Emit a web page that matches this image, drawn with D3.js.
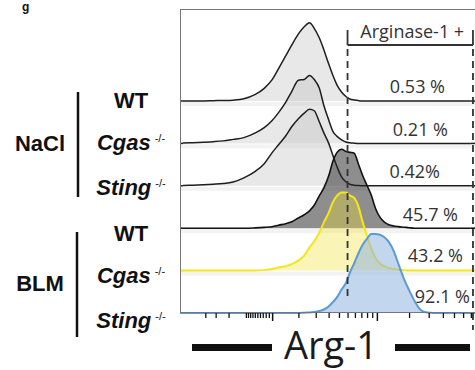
<!DOCTYPE html>
<html><head><meta charset="utf-8">
<script src="https://cdn.jsdelivr.net/npm/d3@7"></script>
<style>body{margin:0;background:#fff} svg{display:block}</style>
</head><body><svg id="c" width="475" height="370"></svg>
<script>
// ---- data ----
const xBins = [-700,-550,-420,-320,-240,-170,-110,-60,-25,0,20,45,70,100,130,160,190,225,260,300,340,380,430,480,530,590,650,720,800,880,970,1070,1180,1300,1450,1600,1800,2000,2250,2550,2900,3300,3800,4500,5500,7000];
const naclWT = [0,0,0.1,0.4,0.6,1.1,2.8,8,16,27, 41,57,71,85,94,99,92,80,65,47, 32,20,11,5.7,2.5,1.3,0.5,0,0,0, 0,0,0,0,0,0,0,0,0,0, 0,0,0,0,0,0];
const naclCgas = [0.4,0.9,1.5,2.2,3.2,5.1,7.3,13,20,29, 39,52,66,80,81,86,81,70,48,30, 15,8.9,4.4,1.8,0.8,0.3,0,0,0,0, 0,0,0,0,0,0,0,0,0,0, 0,0,0,0,0,0];
const naclSting = [0.3,0.8,1.4,2,2.8,4.8,10,18,28,42, 52,63,75,85,92,97,95,81,67,54, 38,24,11,5.1,1.9,0.8,0.3,0,0,0, 0,0,0,0,0,0,0,0,0,0, 0,0,0,0,0,0];
const blmWT = [0,0,0,0,0,0,0,0.4,1,1.9, 3.8,5.7,8.2,13,17,22,29,41,51,66, 85,96,100,97,96,95,82,67,54,42, 25,14,7.6,4.4,2.8,2,1.3,0.6,0,0, 0,0,0,0,0,0];
const blmCgas = [0,0,0,0,0,0,0,0,0.6,1.9, 3.8,5.7,8.2,13,19,29,37,48,61,73, 87,95,99,99,95,92,82,62,44,28, 16,8.9,5.3,3.2,1.9,1,0.5,0,0,0, 0,0,0,0,0,0];
const blmSting = [0,0,0,0,0,0,0,0,0,0, 0,0,0,0,0.4,0.6,1.3,2.5,4.4,8.2, 14,20,30,38,51,63,75,86,94,100, 100,99,96,90,78,62,43,29,15,3.8, 0.6,0,0,0,0,0];
const rowNames = ["WT","Cgas","Sting","WT","Cgas","Sting"];
const rowSup = ["","-/-","-/-","","-/-","-/-"];
const groupNames = ["NaCl","BLM"];
const gatePercents = ["0.53 %","0.21 %","0.42%","45.7 %","43.2 %","92.1 %"];
const gateLabel = "Arginase-1 +";
const gateRange = [500, 7300];
const axisLabel = "Arg-1";
const majorTicks = [0, 1000];
const minorTicks = [-400,-300,-200,-100,-90,-80,-70,-60,-50,-40,-30,-20,-10,100,200,300,400,500,600,700,800,900,2000,3000,4000,5000,6000,7000];
const panelLetter = "g";

// ---- layout / style ----
const series = [naclWT, naclCgas, naclSting, blmWT, blmCgas, blmSting];
const styles = [
  {fill:"#bdbdbd", fo:0.35, stroke:"#1e1e1e", sw:1.5},
  {fill:"#bdbdbd", fo:0.35, stroke:"#1e1e1e", sw:1.5},
  {fill:"#bdbdbd", fo:0.35, stroke:"#1e1e1e", sw:1.5},
  {fill:"#262626", fo:0.52, stroke:"#111",    sw:1.6},
  {fill:"#f0e030", fo:0.35, stroke:"#f7e51c", sw:2},
  {fill:"#8fb4df", fo:0.55, stroke:"#5b9bd5", sw:2}
];
const pctRight = [445,448,440,458,463,470];
const pctUp = [8,7,8,7,9,10];
const labelDown = [7,7,9,13,12,15];

const svg = d3.select("#c");
const x = d3.scaleSymlog().constant(150).domain([-750, 7600]).range([180, 475]);
const yRow = d3.scalePoint().domain(d3.range(6)).range([101, 313]);
const h = d3.scaleLinear().domain([0, 100]).range([0, 79]);

svg.append("defs").append("clipPath").attr("id","clip")
  .append("rect").attr("x",180).attr("y",9).attr("width",300).attr("height",307);

const plot = svg.append("g").attr("clip-path","url(#clip)");
d3.range(5).forEach(i => {
  plot.append("rect").attr("x",180).attr("y",yRow(i)+1).attr("width",300).attr("height",4).attr("fill","#f3f3f3");
});

series.forEach((vals, i) => {
  const base = yRow(i), st = styles[i];
  const area = d3.area().x((d,j)=>x(xBins[j])).y0(base).y1(d=>base - h(d)).curve(d3.curveMonotoneX);
  const line = d3.line().x((d,j)=>x(xBins[j])).y(d=>base - h(d)).curve(d3.curveMonotoneX);
  plot.append("path").datum(vals).attr("d", area).attr("fill", st.fill).attr("fill-opacity", st.fo);
  plot.append("line").attr("x1", x.range()[0]).attr("x2", x(xBins[0])).attr("y1", base).attr("y2", base)
    .attr("stroke", st.stroke).attr("stroke-width", st.sw);
  plot.append("line").attr("x1", x(xBins[xBins.length-1])).attr("x2", x.range()[1]+5).attr("y1", base).attr("y2", base)
    .attr("stroke", st.stroke).attr("stroke-width", st.sw);
  plot.append("path").datum(vals).attr("d", line).attr("fill","none")
    .attr("stroke", st.stroke).attr("stroke-width", st.sw).attr("stroke-linejoin","round");
});

// frame
const frame = svg.append("g").attr("stroke","#777").attr("stroke-width",1).attr("fill","none");
frame.append("line").attr("x1",180.5).attr("x2",180.5).attr("y1",9).attr("y2",313);
frame.append("line").attr("x1",180).attr("x2",475).attr("y1",9.5).attr("y2",9.5);
frame.append("line").attr("x1",180).attr("x2",475).attr("y1",312.5).attr("y2",312.5);

// axis ticks
const axisG = svg.append("g").attr("transform","translate(0,313)");
axisG.append("g").call(d3.axisBottom(x).tickValues(minorTicks).tickSize(5).tickFormat(""))
  .call(g=>g.select(".domain").remove())
  .selectAll("line").attr("stroke","#111").attr("stroke-width",1.3);
axisG.append("g").call(d3.axisBottom(x).tickValues(majorTicks).tickSize(8).tickFormat(""))
  .call(g=>g.select(".domain").remove())
  .selectAll("line").attr("stroke","#111").attr("stroke-width",1.5);

// gate
const gx0 = x(gateRange[0]), gx1 = x(gateRange[1]);
const gate = svg.append("g").attr("stroke","#333").attr("stroke-width",1.8);
gate.append("line").attr("x1",gx0).attr("x2",gx1).attr("y1",45).attr("y2",45);
gate.append("line").attr("x1",gx0).attr("x2",gx0).attr("y1",30).attr("y2",45);
gate.append("line").attr("x1",gx1).attr("x2",gx1).attr("y1",30).attr("y2",45);
gate.append("line").attr("x1",gx0).attr("x2",gx0).attr("y1",49).attr("y2",300).attr("stroke-dasharray","7,5");
gate.append("line").attr("x1",gx1).attr("x2",gx1).attr("y1",49).attr("y2",330).attr("stroke-dasharray","7,5");
svg.append("text").attr("x",(gx0+gx1)/2+2).attr("y",38).attr("text-anchor","middle")
  .attr("font-family","Open Sans").attr("font-size",18).attr("fill","#333").text(gateLabel);

// percentages
gatePercents.forEach((t,i)=>{
  svg.append("text").attr("x",pctRight[i]).attr("y",yRow(i)-pctUp[i]).attr("text-anchor","end")
    .attr("font-family","Open Sans").attr("font-size",18).attr("fill","#333").text(t);
});

// row labels
rowNames.forEach((n,i)=>{
  const t = svg.append("text").attr("x",131).attr("y",yRow(i)+labelDown[i]).attr("text-anchor","middle")
    .attr("font-family","Liberation Sans, Arial, sans-serif").attr("font-size",22).attr("font-weight","bold").attr("fill","#111");
  t.append("tspan").attr("font-style", rowSup[i] ? "italic" : "normal").text(n);
  if (rowSup[i]) t.append("tspan").attr("font-size",11).attr("font-weight","normal").attr("dx",4).attr("dy",-8).text(rowSup[i]);
});

// group labels and brackets
const groupCenters = [yRow(1)+8, yRow(4)+20];
groupNames.forEach((g,i)=>{
  svg.append("text").attr("x",40).attr("y",groupCenters[i]).attr("text-anchor","middle")
    .attr("font-family","Liberation Sans, Arial, sans-serif").attr("font-size",22).attr("font-weight","bold").attr("fill","#111").text(g);
});
svg.append("line").attr("x1",78).attr("x2",78).attr("y1",92).attr("y2",197).attr("stroke","#111").attr("stroke-width",2.5);
svg.append("line").attr("x1",77).attr("x2",77).attr("y1",232).attr("y2",337).attr("stroke","#111").attr("stroke-width",2.5);

// axis label with bars
svg.append("rect").attr("x",192).attr("y",344).attr("width",80).attr("height",7).attr("fill","#111");
svg.append("rect").attr("x",395).attr("y",344).attr("width",75).attr("height",7).attr("fill","#111");
svg.append("text").attr("x",331).attr("y",359).attr("text-anchor","middle")
  .attr("font-family","Open Sans").attr("font-size",38).attr("fill","#1a1a1a").text(axisLabel);

// panel letter
svg.append("text").attr("x",22).attr("y",11).attr("font-family","Liberation Sans, Arial").attr("font-weight","bold")
  .attr("font-size",12).attr("fill","#111").text(panelLetter);
</script></body></html>
